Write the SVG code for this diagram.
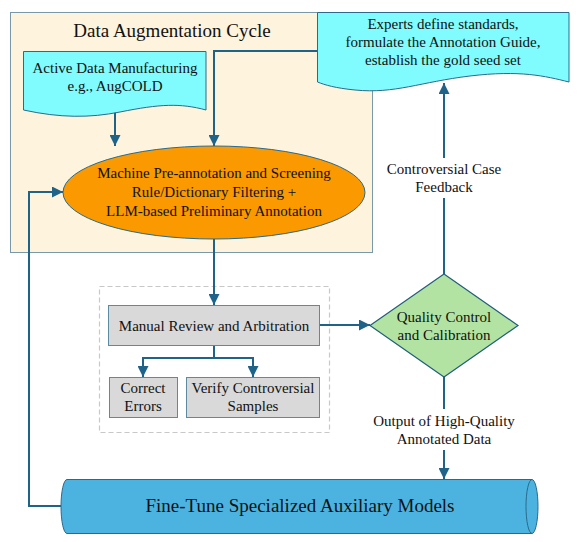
<svg xmlns="http://www.w3.org/2000/svg" width="582" height="542" viewBox="0 0 582 542" font-family="'Liberation Serif', 'Times New Roman', serif">
<defs>
<marker id="ah" viewBox="0 0 10 10" refX="10" refY="5" markerWidth="11" markerHeight="11" markerUnits="userSpaceOnUse" orient="auto">
<path d="M0,0 L10,5 L0,10 Z" fill="#1F6388"/>
</marker>
</defs>
<style>
text{font-family:'Liberation Serif','Times New Roman',serif;fill:#111;text-anchor:middle}
.t{font-size:15px}
.c{fill:none;stroke:#1F6388;stroke-width:2}
.doc{fill:#80FCFF;stroke:#2B6A8A;stroke-width:1}
.box{fill:#D9D9D9;stroke:#5C8AA0;stroke-width:1}
</style>
<rect width="582" height="542" fill="#FFFFFF"/>
<g id="cycle">
<rect x="10.5" y="12.5" width="362" height="240" fill="#FEF3DC" stroke="#7A99A8" stroke-width="1"/>
<text x="172" y="37" font-size="19">Data Augmentation Cycle</text>
</g>
<g id="dashed">
<rect x="99.5" y="286.5" width="230" height="146" fill="none" stroke="#C8C8C8" stroke-width="1.2" stroke-dasharray="5,3"/>
</g>
<g id="connectors">
<line class="c" x1="115" y1="110" x2="115" y2="146" marker-end="url(#ah)"/>
<polyline class="c" points="317,51 214,51 214,146" marker-end="url(#ah)"/>
<polyline class="c" points="61,506 29,506 29,192 63,192" marker-end="url(#ah)"/>
<line class="c" x1="214" y1="239" x2="214" y2="305" marker-end="url(#ah)"/>
<line class="c" x1="214" y1="346" x2="214" y2="358"/>
<polyline class="c" points="214,358 143,358 143,377" marker-end="url(#ah)"/>
<polyline class="c" points="214,358 253,358 253,377" marker-end="url(#ah)"/>
<line class="c" x1="320" y1="325" x2="370" y2="325" marker-end="url(#ah)"/>
<line class="c" x1="444" y1="274" x2="444" y2="83" marker-end="url(#ah)"/>
<line class="c" x1="444" y1="377" x2="444" y2="479" marker-end="url(#ah)"/>
<rect x="376" y="158" width="136" height="40" fill="#FFFFFF"/>
<text class="t" x="444" y="174">Controversial Case</text>
<text class="t" x="444" y="192">Feedback</text>
<rect x="364" y="409" width="160" height="41" fill="#FFFFFF"/>
<text class="t" x="444" y="426">Output of High-Quality</text>
<text class="t" x="444" y="444">Annotated Data</text>
</g>
<g id="active">
<path class="doc" d="M23.5,51.5 H206 V110 C180,103 160,104 120,112 C90,118 60,118 23.5,110 Z"/>
<text class="t" x="115" y="73">Active Data Manufacturing</text>
<text class="t" x="115" y="91">e.g., AugCOLD</text>
</g>
<g id="experts">
<path class="doc" d="M317.5,12.5 H569 V82 C545,76 520,70 470,76 C420,82 395,94 355,90 C335,88 325,85 317.5,82 Z"/>
<text class="t" x="443" y="29">Experts define standards,</text>
<text class="t" x="443" y="47">formulate the Annotation Guide,</text>
<text class="t" x="443" y="65">establish the gold seed set</text>
</g>
<g id="machine">
<ellipse cx="214" cy="192.5" rx="151" ry="46.5" fill="#FA9A00" stroke="#2B6A8A" stroke-width="1"/>
<text class="t" x="214" y="178">Machine Pre-annotation and Screening</text>
<text class="t" x="214" y="197">Rule/Dictionary Filtering +</text>
<text class="t" x="214" y="216">LLM-based Preliminary Annotation</text>
</g>
<g id="manual">
<rect class="box" x="108.5" y="305.5" width="211" height="40"/>
<text class="t" x="214" y="331">Manual Review and Arbitration</text>
</g>
<g id="correct">
<rect class="box" x="109.5" y="377.5" width="68" height="40"/>
<text class="t" x="143" y="393">Correct</text>
<text class="t" x="143" y="411">Errors</text>
</g>
<g id="verify">
<rect class="box" x="186.5" y="377.5" width="133" height="40"/>
<text class="t" x="253" y="393">Verify Controversial</text>
<text class="t" x="253" y="411">Samples</text>
</g>
<g id="quality">
<polygon points="444,274 518,325.5 444,377 370,325.5" fill="#B3E3A3" stroke="#1F5F7A" stroke-width="1.2"/>
<text class="t" x="444" y="322">Quality Control</text>
<text class="t" x="444" y="340">and Calibration</text>
</g>
<g id="finetune">
<path d="M67,479.5 H532 A6,27 0 0 1 532,533.5 H67 A6,27 0 0 1 67,479.5 Z" fill="#4CB3E1" stroke="#2B6A8A" stroke-width="1"/>
<path d="M532,479.5 A6,27 0 0 0 532,533.5" fill="none" stroke="#2B6A8A" stroke-width="1"/>
<text x="300" y="512" font-size="19">Fine-Tune Specialized Auxiliary Models</text>
</g>
</svg>
